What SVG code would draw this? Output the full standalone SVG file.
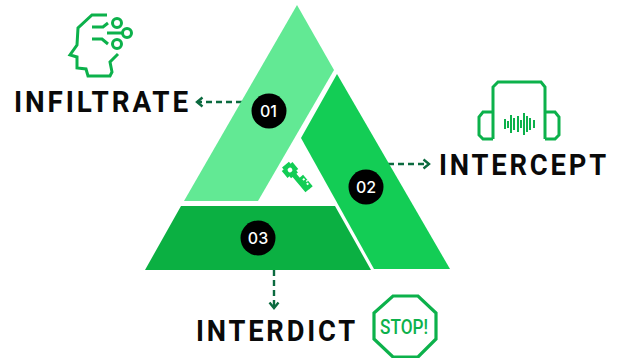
<svg xmlns="http://www.w3.org/2000/svg" width="619" height="358" viewBox="0 0 619 358">
<defs>
<marker id="ah" markerWidth="12" markerHeight="12" refX="9" refY="6" orient="auto" markerUnits="userSpaceOnUse"><path d="M3.500 1.500L9 6L3.500 10.500" fill="none" stroke="#0b6a3f" stroke-width="2.400"/></marker>
</defs>
<style>
.lbl{font-family:"Roboto","Liberation Sans",sans-serif;font-weight:700;font-size:29px;fill:#0a0a0a;letter-spacing:3px}
.num{font-family:"Inter","Liberation Sans",sans-serif;font-weight:500;font-size:16px;fill:#fff;text-anchor:middle}
.ic{fill:none;stroke:#0cb14b;stroke-width:3}
.con{fill:none;stroke:#0b6a3f;stroke-width:2.400;stroke-dasharray:6 4;marker-end:url(#ah)}
</style>
<g id="connectors">
<path class="con" d="M242 102H197"/>
<path class="con" d="M388 164H429"/>
<path class="con" d="M274 270V308"/>
</g>
<g id="node-01">
<path d="M297 5L334 70L258 201H184Z" fill="#62e994"/>
<circle cx="269" cy="111" r="17.500" fill="#000"/>
<text class="num" x="268.500" y="117">01</text>
</g>
<g id="node-02">
<path d="M337 74L450 269H374L301 138Z" fill="#13cd55"/>
<circle cx="366" cy="187" r="17.500" fill="#000"/>
<text class="num" x="366" y="193">02</text>
</g>
<g id="node-03">
<path d="M181 206H335L371 270H145Z" fill="#0bb042"/>
<circle cx="258" cy="238" r="17.500" fill="#000"/>
<text class="num" x="258" y="244">03</text>
</g>
<g id="key" transform="translate(290 170) rotate(50)">
<path d="M-7 -4.500H-4.500V-7H4.500V-4.500H7V-2.500H27V2.500H7V4.500H4.500V7H-4.500V4.500H-7Z" fill="#13cd55"/>
<path d="M12 -7H27V-2H12Z" fill="#13cd55"/>
<circle cx="0" cy="0" r="2.400" fill="#fff"/>
<rect x="15" y="-5.500" width="2" height="2" fill="#fff"/>
<rect x="21" y="-5.500" width="2" height="2" fill="#fff"/>
<rect x="18.500" y="-7" width="1.500" height="2" fill="#fff"/>
</g>
<g id="infiltrate">
<path class="ic" d="M107 15H92L78 28L77 45L70 55L77 57V68L86 69L88 76H110L112 72L110 62L118 54"/>
<path class="ic" d="M92 27H103L108 23"/><circle class="ic" cx="117" cy="23" r="4.500"/>
<path class="ic" d="M107 33H122"/><circle class="ic" cx="127" cy="33" r="4.500"/>
<path class="ic" d="M92 39H102L108 44"/><circle class="ic" cx="117" cy="44" r="4.500"/>
<text class="lbl" x="14" y="112" textLength="177" lengthAdjust="spacingAndGlyphs">INFILTRATE</text>
</g>
<g id="intercept">
<path class="ic" d="M493 139V87L498 82H541L545 87V139"/>
<path class="ic" d="M493 112H483L479 117V135L483 139H493"/>
<path class="ic" d="M545 112H555L559 117V135L555 139H545"/>
<path d="M505 119v10M508 121v7M511 115v18M514 118v12M518 116v16M521 120v8M524 113v22M527 116v16M530 118v12M534 120v8" fill="none" stroke="#0cb14b" stroke-width="2"/>
<text class="lbl" x="439" y="175" textLength="170" lengthAdjust="spacingAndGlyphs">INTERCEPT</text>
</g>
<g id="interdict">
<text class="lbl" x="196" y="341" textLength="162" lengthAdjust="spacingAndGlyphs">INTERDICT</text>
<path d="M393 296H418L436 313V339L418 357H393L374 339V313Z" fill="none" stroke="#0cb14b" stroke-width="3.200"/>
<text x="380" y="334" textLength="48" lengthAdjust="spacingAndGlyphs" font-family="Roboto,'Liberation Sans',sans-serif" font-weight="500" font-size="20" fill="#0cb14b">STOP!</text>
</g>
</svg>
